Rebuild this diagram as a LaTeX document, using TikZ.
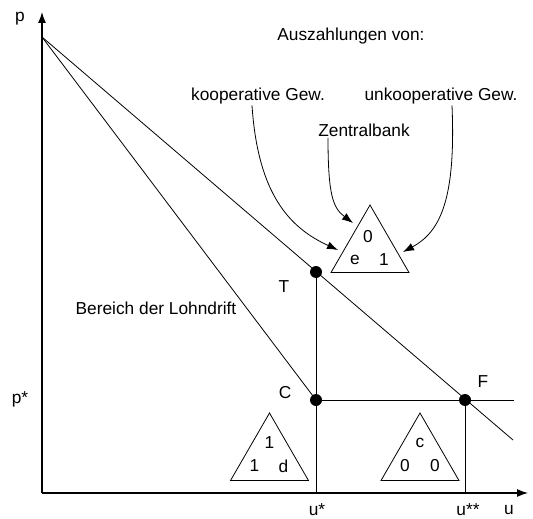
\documentclass[tikz,border=0pt]{standalone}
\usepackage{fontspec}
\setmainfont{Liberation Sans}
\usetikzlibrary{arrows.meta, shapes.geometric}

\begin{document}
\begin{tikzpicture}[x=1pt,y=-1pt,line width=0.8pt,
    every node/.style={font=\fontsize{17.3}{20}\selectfont,inner sep=1pt},
    dot/.style={circle,fill,inner sep=0pt,minimum size=12pt},
    payoff/.style={draw,regular polygon,regular polygon sides=3,minimum size=90pt,inner sep=0pt},
    axis/.style={line width=1.2pt,-{Latex[length=11pt,width=8pt]}},
    pointer/.style={-{Latex[length=11pt,width=8pt]}}]
    \useasboundingbox (0,0) rectangle (533,519);
    \coordinate (O) at (42,493);
    \coordinate (top) at (42,37);
    \coordinate (lend) at (513,440);
    \coordinate (pend) at (514,400);
    \coordinate (us) at (316,493);
    \coordinate (uss) at (465,493);

    % axes
    \draw[axis] (O) -- (42,12);
    \draw[axis] (O) -- (528,493);

    % lines
    \draw (top) -- (316,400);
    \draw (top) -- (lend);
    \draw (316,272) -- (us);
    \draw (465,400) -- (uss);
    \draw (316,400) -- (pend);

    \node[dot] (T) at (316,272) {};
    \node[dot] (C) at (316,400) {};
    \node[dot] (F) at (465,400) {};

    % axis and point labels
    \node (p) at (20,19) {p};
    \node (ps) at (20,399) {p*};
    \node (u) at (509,510) {u};
    \node (ust) at (317,510) {u*};
    \node (usst) at (468,510) {u**};
    \node (lT) at (284,287) {T};
    \node (lC) at (285,393) {C};
    \node (lF) at (483,382) {F};
    \node (drift) at (156,308) {Bereich der Lohndrift};

    % payoff triangles
    \node[payoff] (triT) at (370,250) {};
    \node at ([shift={(-2,-13)}]triT.center) {0};
    \node at ([shift={(-15,10)}]triT.center) {e};
    \node at ([shift={(14,10)}]triT.center) {1};

    \node[payoff] (triC) at (269.5,458) {};
    \node at ([shift={(0,-15)}]triC.center) {1};
    \node at ([shift={(-15,8)}]triC.center) {1};
    \node at ([shift={(14,8)}]triC.center) {d};

    \node[payoff] (triF) at (420,458) {};
    \node at ([shift={(0,-15)}]triF.center) {c};
    \node at ([shift={(-15,8)}]triF.center) {0};
    \node at ([shift={(15,8)}]triF.center) {0};

    % legend
    \node (title) at (351,36) {Auszahlungen von:};
    \node (koop) at (258,96) {kooperative Gew.};
    \node (unkoop) at (441,96) {unkooperative Gew.};
    \node (zb) at (364,130) {Zentralbank};
    \coordinate (tipK) at (338,250);
    \coordinate (tipZ) at (353,223);
    \coordinate (tipU) at (403,252);
    \draw[pointer] ([xshift=-6pt]koop.south) .. controls (258,195) and (290,228) .. (tipK);
    \draw[pointer] ([xshift=-36pt]zb.south) .. controls (328,195) and (333,208) .. (tipZ);
    \draw[pointer] ([xshift=11pt]unkoop.south) .. controls (456,200) and (440,232) .. (tipU);
\end{tikzpicture}
\end{document}
